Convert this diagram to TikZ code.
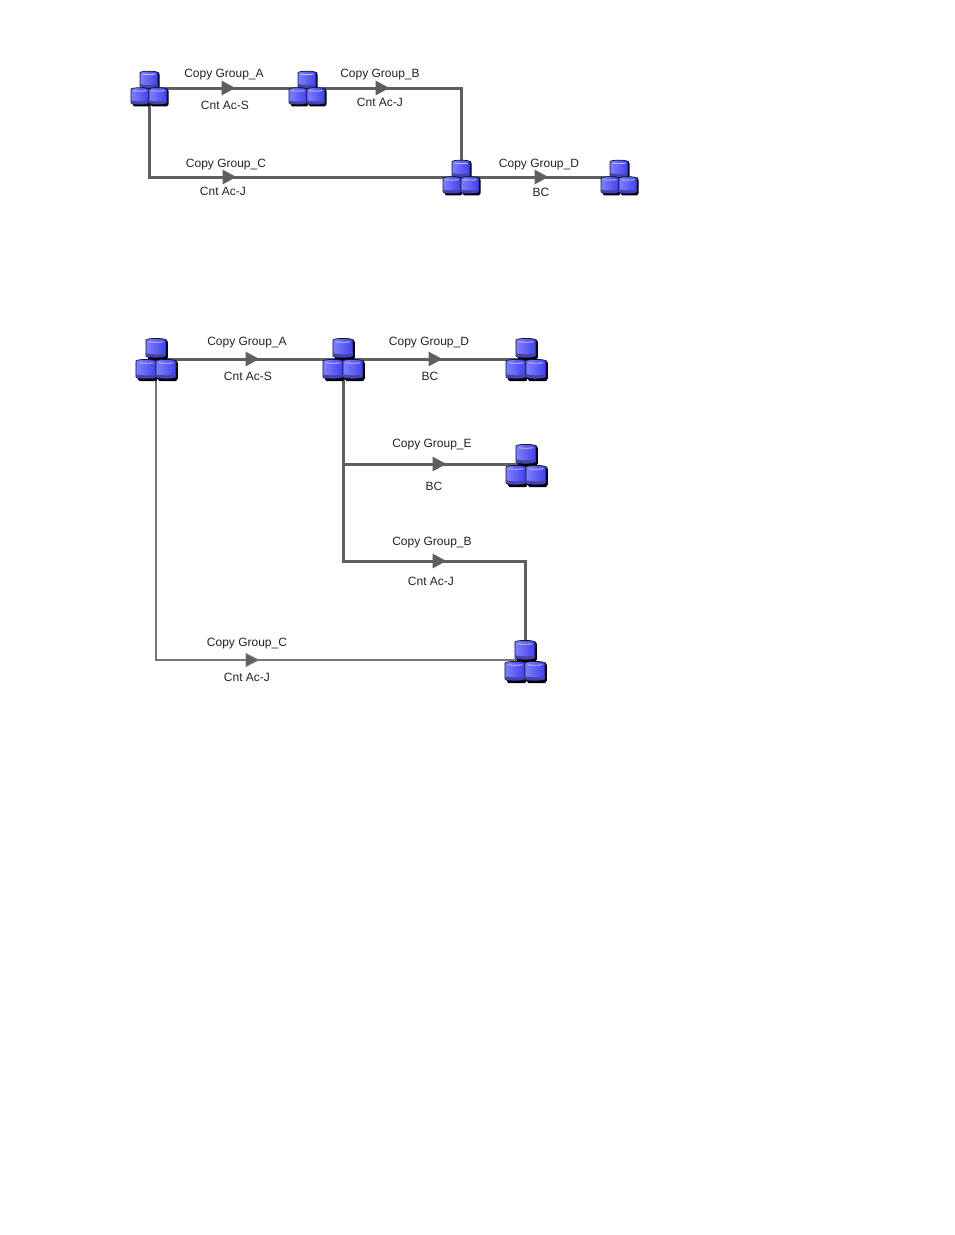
\documentclass[tikz,border=0pt]{standalone}
\usepackage{fontspec}
\setmainfont{Liberation Sans}
\usepackage{tikz}
\usetikzlibrary{arrows.meta,positioning}
\definecolor{cline}{HTML}{5F5F5F}
\definecolor{cink}{HTML}{222222}
\definecolor{cdrum}{HTML}{4040E8}
\definecolor{cdrumlt}{HTML}{8080FF}
\definecolor{cdrumdk}{HTML}{46469C}
\definecolor{cedge}{HTML}{10104A}
\tikzset{
  drum/.pic={
    % shadow, body, lower band, rim highlight
    \fill[black] (-7.5,-5) -- (-6.5,-7) -- (9.5,-7) -- (10.5,-5) -- (10.5,8)
      -- (9,10) -- (-6,10) -- (-7.5,8) -- cycle;
    \draw[cedge, line width=0.7pt, left color=cdrumlt, right color=cdrum]
      (-9,-6.5) .. controls (-8.6,-8.5) and (8.6,-8.5) .. (9,-6.5) -- (9,6.5)
      .. controls (8.6,8.6) and (-8.6,8.6) .. (-9,6.5) -- cycle;
    \fill[cdrumdk] (-8.6,4.4) .. controls (-4,5.6) and (4,5.6) .. (8.6,4.4) -- (8.6,6.5)
      .. controls (8.2,8.2) and (-8.2,8.2) .. (-8.6,6.5) -- cycle;
    \draw[white!75!blue, line width=0.9pt] (-6.5,-5.2) .. controls (-3,-4.6) and (3,-4.6) .. (6.5,-5.2);
  },
  dbsmall/.pic={
    \pic[yscale=1.04] at (0,-8.5) {drum};
    \pic[yscale=1.04] at (-9,8) {drum};
    \pic[yscale=1.04] at (9,8) {drum};
  },
  dblarge/.pic={
    \pic[xscale=1.12, yscale=1.2] at (0,-11) {drum};
    \pic[xscale=1.12, yscale=1.2] at (-10,10) {drum};
    \pic[xscale=1.12, yscale=1.2] at (10,10) {drum};
  },
  hub/.style={inner sep=0pt, minimum size=0pt, outer sep=0pt},
  wire/.style={line width=3pt, draw=cline, line join=miter},
  wirethin/.style={wire, line width=1.2pt, draw=cline!85},
  sig/.style={wire, -{Triangle[length=14pt, width=14pt, fill=cline]}, shorten >=-0.5pt},
  sigthin/.style={sig, line width=1.2pt, draw=cline!85},
  lbl/.style={font=\fontsize{12}{14}\selectfont, text=cink, inner sep=0pt},
}
\begin{document}
\begin{tikzpicture}[x=1pt, y=-1pt]
  \path[use as bounding box] (0,0) rectangle (954,1235);
  % == upper diagram
  \node[hub] (ua) at (149,88) {};
  \node[hub] (ub) at (307,88) {};
  \node[hub] (uc) at (461,177) {};
  \node[hub] (ud) at (619,177) {};
  \coordinate (ucorner) at (ua |- uc);
  \coordinate (ubend) at (uc |- ub);
  \coordinate (tipA) at (235,88);
  \coordinate (tipB) at (389,88);
  \coordinate (tipC) at (236,177);
  \coordinate (tipD) at (548,177);
  \draw[wire] (ua.center) -- (ub.center) -- (ubend) -- (uc.center);
  \draw[wire] (ua.center) -- (ucorner) -- (uc.center) -- (ud.center);
  \draw[sig] (ua.center) -- (tipA);
  \draw[sig] (ub.center) -- (tipB);
  \draw[sig] (ucorner) -- (tipC);
  \draw[sig] (uc.center) -- (tipD);
  \node[lbl] (ltA) at (224,75) {Copy Group\_A};
  \node[lbl] (lbA) at (225,105) {Cnt Ac-S};
  \node[lbl] (ltB) at (380,75) {Copy Group\_B};
  \node[lbl] (lbB) at (380,102) {Cnt Ac-J};
  \node[lbl] (ltC) at (226,165) {Copy Group\_C};
  \node[lbl] (lbC) at (223,191) {Cnt Ac-J};
  \node[lbl] (ltD) at (539,165) {Copy Group\_D};
  \node[lbl] (lbD) at (541,192) {BC};
  \pic at (ua) {dbsmall};
  \pic at (ub) {dbsmall};
  \pic at (uc) {dbsmall};
  \pic at (ud) {dbsmall};
  % == lower diagram
  \node[hub] (va) at (156,359) {};
  \node[hub] (vb) at (343,359) {};
  \node[hub] (vd) at (526,359) {};
  \node[hub] (ve) at (526,465) {};
  \node[hub] (vc) at (525,661) {};
  \coordinate (vsplit) at (343,464);
  \coordinate (vlow) at (343,561);
  \coordinate (vbend) at (525,561);
  \coordinate (vcorner) at (156,660);
  \coordinate (vend) at (525,660);
  \coordinate (vendE) at (526,464);
  \coordinate (tipVA) at (259,359);
  \coordinate (tipVD) at (442,359);
  \coordinate (tipVE) at (446,464);
  \coordinate (tipVB) at (446,561);
  \coordinate (tipVC) at (259,660);
  \draw[wire] (va.center) -- (vb.center) -- (vd.center);
  \draw[wire] (vb.center) -- (vlow) -- (vbend) -- (vc.center);
  \draw[wire] (vsplit) -- (vendE);
  \draw[wirethin] (va.center) -- (vcorner) -- (vend);
  \draw[sig] (va.center) -- (tipVA);
  \draw[sig] (vb.center) -- (tipVD);
  \draw[sig] (vsplit) -- (tipVE);
  \draw[sig] (vlow) -- (tipVB);
  \draw[sigthin] (vcorner) -- (tipVC);
  \node[lbl] (mtA) at (247,343) {Copy Group\_A};
  \node[lbl] (mbA) at (248,376) {Cnt Ac-S};
  \node[lbl] (mtD) at (429,343) {Copy Group\_D};
  \node[lbl] (mbD) at (430,376) {BC};
  \node[lbl] (mtE) at (432,445) {Copy Group\_E};
  \node[lbl] (mbE) at (434,486) {BC};
  \node[lbl] (mtB) at (432,543) {Copy Group\_B};
  \node[lbl] (mbB) at (431,581) {Cnt Ac-J};
  \node[lbl] (mtC) at (247,644) {Copy Group\_C};
  \node[lbl] (mbC) at (247,677) {Cnt Ac-J};
  \pic at (va) {dblarge};
  \pic at (vb) {dblarge};
  \pic at (vd) {dblarge};
  \pic at (ve) {dblarge};
  \pic at (vc) {dblarge};
\end{tikzpicture}
\end{document}
